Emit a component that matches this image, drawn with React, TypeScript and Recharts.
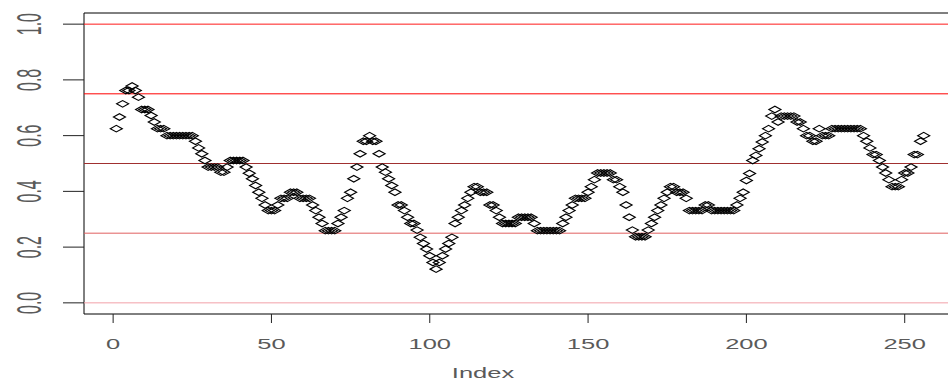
import { ScatterChart, Scatter, XAxis, YAxis, ReferenceLine, ReferenceArea } from "recharts"

// running proportion, one value per observation (index 1..256)
const proportion = [
  0.625, 0.667, 0.714, 0.762, 0.762, 0.778, 0.762, 0.738, 0.694, 0.694,
  0.694, 0.672, 0.649, 0.625, 0.625, 0.625, 0.6, 0.6, 0.6, 0.6,
  0.6, 0.6, 0.6, 0.6, 0.6, 0.58, 0.556, 0.535, 0.511, 0.487,
  0.487, 0.487, 0.487, 0.469, 0.469, 0.487, 0.511, 0.511, 0.511, 0.511,
  0.511, 0.487, 0.465, 0.445, 0.421, 0.397, 0.375, 0.351, 0.331, 0.331,
  0.331, 0.351, 0.375, 0.375, 0.375, 0.397, 0.397, 0.397, 0.375, 0.375,
  0.375, 0.375, 0.351, 0.331, 0.307, 0.285, 0.259, 0.259, 0.259, 0.259,
  0.285, 0.307, 0.331, 0.375, 0.397, 0.445, 0.487, 0.535, 0.58, 0.58,
  0.6, 0.58, 0.58, 0.535, 0.487, 0.469, 0.445, 0.421, 0.397, 0.351,
  0.351, 0.331, 0.307, 0.285, 0.285, 0.261, 0.235, 0.213, 0.193, 0.169,
  0.145, 0.121, 0.145, 0.169, 0.193, 0.213, 0.235, 0.285, 0.307, 0.331,
  0.351, 0.375, 0.397, 0.417, 0.417, 0.397, 0.397, 0.397, 0.351, 0.351,
  0.331, 0.307, 0.285, 0.285, 0.285, 0.285, 0.285, 0.307, 0.307, 0.307,
  0.307, 0.307, 0.285, 0.259, 0.259, 0.259, 0.259, 0.259, 0.259, 0.259,
  0.259, 0.285, 0.307, 0.331, 0.351, 0.375, 0.375, 0.375, 0.375, 0.397,
  0.417, 0.442, 0.466, 0.466, 0.466, 0.466, 0.466, 0.442, 0.442, 0.417,
  0.397, 0.351, 0.307, 0.261, 0.237, 0.237, 0.237, 0.237, 0.261, 0.285,
  0.307, 0.331, 0.351, 0.375, 0.397, 0.417, 0.417, 0.397, 0.397, 0.397,
  0.375, 0.331, 0.331, 0.331, 0.331, 0.331, 0.351, 0.351, 0.331, 0.331,
  0.331, 0.331, 0.331, 0.331, 0.331, 0.331, 0.351, 0.375, 0.397, 0.439,
  0.464, 0.511, 0.529, 0.553, 0.577, 0.6, 0.625, 0.67, 0.694, 0.649,
  0.67, 0.67, 0.67, 0.67, 0.67, 0.649, 0.649, 0.625, 0.6, 0.6,
  0.58, 0.58, 0.625, 0.6, 0.6, 0.6, 0.625, 0.625, 0.625, 0.625,
  0.625, 0.625, 0.625, 0.625, 0.625, 0.625, 0.6, 0.58, 0.556, 0.532,
  0.532, 0.511, 0.487, 0.466, 0.442, 0.417, 0.417, 0.417, 0.442, 0.466,
  0.466, 0.487, 0.532, 0.532, 0.58, 0.6,
]

const indexTicks = [0, 50, 100, 150, 200, 250]
const valueTicks = [0, 0.2, 0.4, 0.6, 0.8, 1.0]
const guideLevels = [1, 0.75, 0.5, 0.25, 0]

const guideColors: Record<string, string> = {
  "1": "#ff1a1a",
  "0.75": "#ff0000",
  "0.5": "#a03030",
  "0.25": "#e06060",
  "0": "#f2a0a8",
}

const points = proportion.map((value, i) => ({ index: i + 1, value }))

const FONT = "'Liberation Sans', Arial, sans-serif"
const TEXT_FILL = "#5a5a5a"

function Diamond(props: any) {
  const { cx, cy } = props
  if (cx == null || cy == null) return null
  return (
    <path
      d={`M${cx - 6},${cy}L${cx},${cy - 3.3}L${cx + 6},${cy}L${cx},${cy + 3.3}Z`}
      fill="none"
      stroke="#000"
      strokeWidth={1.15}
    />
  )
}

function IndexTick(props: any) {
  const { x, payload } = props
  return (
    <text
      transform={`translate(${x},349) scale(1.7,1)`}
      textAnchor="middle"
      fontFamily={FONT}
      fontSize={15}
      fill={TEXT_FILL}
    >
      {payload.value}
    </text>
  )
}

function ValueTick(props: any) {
  const { y, payload } = props
  return (
    <text
      transform={`translate(41,${y}) scale(2.2,1) rotate(-90)`}
      textAnchor="middle"
      fontFamily={FONT}
      fontSize={16}
      fill={TEXT_FILL}
    >
      {Number(payload.value).toFixed(1)}
    </text>
  )
}

function IndexTitle() {
  return (
    <text
      transform="translate(483,378) scale(1.7,1)"
      textAnchor="middle"
      fontFamily={FONT}
      fontSize={15}
      fill={TEXT_FILL}
    >
      Index
    </text>
  )
}

export default function App() {
  return (
    <div
      style={{
        position: "fixed",
        left: 0,
        top: 0,
        width: 948,
        height: 387,
        overflow: "hidden",
        background: "#fff",
      }}
    >
      <ScatterChart width={1000} height={387} margin={{ top: 13, right: 44, bottom: 0, left: 0 }}>
        <XAxis
          type="number"
          dataKey="index"
          domain={[-9.2, 266.2]}
          ticks={indexTicks}
          interval={0}
          allowDataOverflow
          height={73}
          axisLine={false}
          tickSize={9}
          tickLine={{ stroke: "#222" }}
          tick={<IndexTick />}
          label={<IndexTitle />}
        />
        <YAxis
          type="number"
          dataKey="value"
          domain={[-0.04, 1.04]}
          ticks={valueTicks}
          interval={0}
          allowDataOverflow
          width={84}
          axisLine={false}
          tickSize={21}
          tickLine={{ stroke: "#222" }}
          tick={<ValueTick />}
        />
        {guideLevels.map((level) => (
          <ReferenceLine
            key={level}
            y={level}
            stroke={guideColors[String(level)]}
            strokeWidth={1}
            ifOverflow="visible"
          />
        ))}
        <ReferenceArea
          x1={-9.2}
          x2={266.2}
          y1={-0.04}
          y2={1.04}
          fill="none"
          stroke="#000"
          strokeWidth={1}
          ifOverflow="visible"
        />
        <Scatter data={points} shape={Diamond} isAnimationActive={false} />
      </ScatterChart>
    </div>
  )
}
